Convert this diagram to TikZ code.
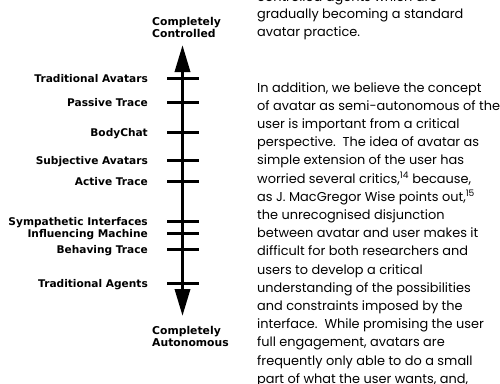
\documentclass[tikz,border=0pt]{standalone}
\usepackage{fontspec}
\setmainfont{Poppins}
\newfontfamily\labfont{DejaVu Sans}
\usetikzlibrary{arrows.meta}
\begin{document}
\begin{tikzpicture}[x=1pt,y=-1pt,
  lab/.style={font=\labfont\bfseries\fontsize{10.6}{12}\selectfont, anchor=base east, inner sep=0},
  endlab/.style={font=\labfont\bfseries\fontsize{10.8}{12.3}\selectfont, align=left, anchor=north west, inner sep=0},
  tickline/.style={line width=3pt},
  axisline/.style={line width=3.5pt, {Triangle[length=27pt,width=15pt]}-{Triangle[length=27pt,width=15pt]}},
  txt/.style={font=\fontsize{12.9}{14}\selectfont, anchor=base west, inner sep=0}]
\useasboundingbox (0,0) rectangle (500,383);
% axis
\node[endlab] (ctrl) at (152,16.6) {Completely\\Controlled};
\node[endlab] (auto) at (152,325.8) {Completely\\Autonomous};
\coordinate (axtop) at (182.5,45);
\coordinate (axbot) at (182.5,316);
\draw[axisline] (axtop) -- (axbot);
\foreach \y/\t [count=\i] in {78/Traditional Avatars, 102/Passive Trace, 132/BodyChat, 160/Subjective Avatars, 181/Active Trace, 221/Sympathetic Interfaces, 233/Influencing Machine, 249/Behaving Trace, 283/Traditional Agents}{
  \coordinate (tA\i) at (167,\y);
  \coordinate (tB\i) at (199,\y);
  \draw[tickline] (tA\i) -- (tB\i);
  \node[lab] (lab\i) at (148,{\y+4.6}) {\t};
}
% text column
\node[txt] (l1) at (257,1) {controlled agents which are};
\node[txt] (l2) at (257,18.5) {gradually becoming a standard};
\node[txt] (l3) at (257,36) {avatar practice.};
\node[txt] (l5) at (257,92) {In addition, we believe the concept};
\node[txt] (l6) at (257,110.2) {of avatar as semi-autonomous of the};
\node[txt] (l7) at (257,128.4) {user is important from a critical};
\node[txt] (l8) at (257,146.6) {perspective.\ \ The idea of avatar as};
\node[txt] (l9) at (257,164.8) {simple extension of the user has};
\node[txt] (l10) at (257,183) {worried several critics,\textsuperscript{14} because,};
\node[txt] (l11) at (257,201.2) {as J. MacGregor Wise points out,\textsuperscript{15}};
\node[txt] (l12) at (257,219.4) {the unrecognised disjunction};
\node[txt] (l13) at (257,237.6) {between avatar and user makes it};
\node[txt] (l14) at (257,255.8) {difficult for both researchers and};
\node[txt] (l15) at (257,274) {users to develop a critical};
\node[txt] (l16) at (257,292.2) {understanding of the possibilities};
\node[txt] (l17) at (257,310.4) {and constraints imposed by the};
\node[txt] (l18) at (257,328.6) {interface.\ \ While promising the user};
\node[txt] (l19) at (257,346.8) {full engagement, avatars are};
\node[txt] (l20) at (257,365) {frequently only able to do a small};
\node[txt] (l21) at (257,383.2) {part of what the user wants, and,};
\end{tikzpicture}
\end{document}
